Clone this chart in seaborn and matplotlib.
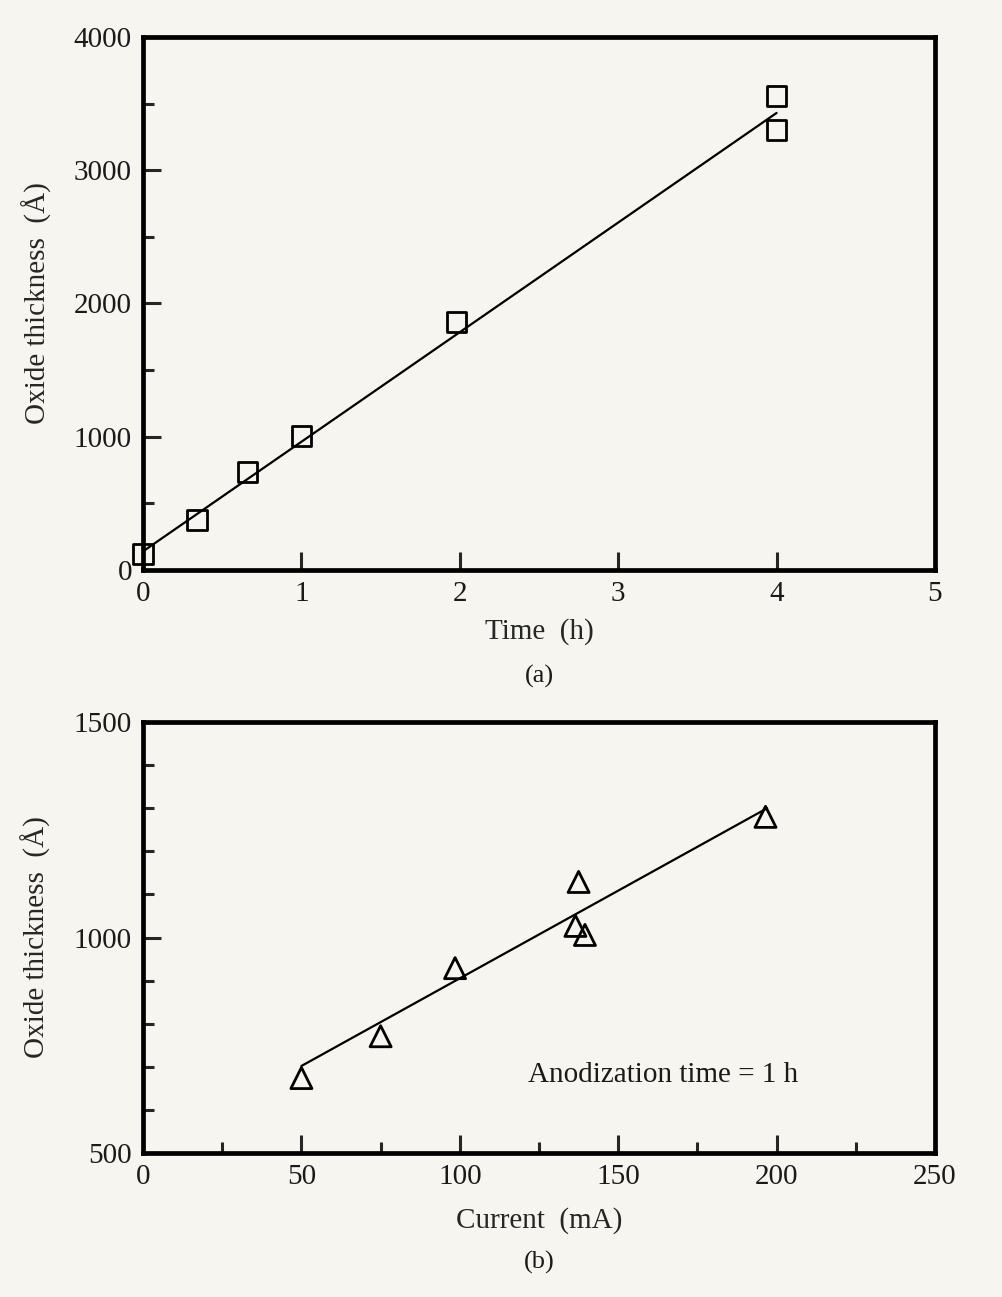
import numpy as np
import pandas as pd
import matplotlib
matplotlib.use("Agg")
import matplotlib.pyplot as plt
from matplotlib.ticker import MultipleLocator
import seaborn as sns

# ── Data ─────────────────────────────────────────────────────────────────────
time_h = [0.0, 0.34, 0.66, 1.0, 1.98, 4.0, 4.0]
thick_a = [120, 375, 735, 1005, 1860, 3555, 3300]
fit_a_x = [0.0, 4.0]
fit_a_y = [140, 3430]

current_ma = [50, 75, 98.5, 137.5, 136.5, 139.5, 196.5]
thick_b = [674, 771, 929, 1129, 1027, 1006, 1280]
fit_b_x = [50, 197]
fit_b_y = [702, 1300]

BG = "#f6f5ef"
sns.set_theme(style="ticks")
plt.rcParams.update({
    "font.family": ["Liberation Serif", "DejaVu Serif"],
    "figure.facecolor": BG,
    "axes.facecolor": BG,
    "axes.edgecolor": "black",
    "axes.linewidth": 3.4,
    "xtick.direction": "in",
    "ytick.direction": "in",
    "xtick.major.size": 13,
    "ytick.major.size": 13,
    "xtick.minor.size": 8,
    "ytick.minor.size": 8,
    "xtick.major.width": 2.2,
    "ytick.major.width": 2.2,
    "xtick.minor.width": 2.2,
    "ytick.minor.width": 2.2,
    "xtick.major.pad": 8,
    "ytick.major.pad": 8,
    "xtick.labelsize": 21,
    "ytick.labelsize": 21,
    "axes.labelsize": 21,
    "text.color": "#1a1a1a",
    "xtick.labelcolor": "#1a1a1a",
    "ytick.labelcolor": "#1a1a1a",
})

fig = plt.figure(figsize=(10.03, 12.97), dpi=100)
ax1 = fig.add_axes([0.1426, 0.5605, 0.7896, 0.4110])
ax2 = fig.add_axes([0.1426, 0.1110, 0.7896, 0.3323])

df_a = pd.DataFrame({"t": time_h, "d": thick_a})
df_b = pd.DataFrame({"i": current_ma, "d": thick_b})

# ── Panel (a) ────────────────────────────────────────────────────────────────
sns.lineplot(x=fit_a_x, y=fit_a_y, ax=ax1, color="black", lw=1.6)
sns.scatterplot(data=df_a, x="t", y="d", ax=ax1, marker="s", s=200,
                facecolor="none", edgecolor="black", linewidth=2.0,
                clip_on=False, zorder=5)
ax1.set_xlim(0, 5)
ax1.set_ylim(0, 4000)
ax1.xaxis.set_major_locator(MultipleLocator(1))
ax1.yaxis.set_major_locator(MultipleLocator(1000))
ax1.yaxis.set_minor_locator(MultipleLocator(500))
ax1.set_xlabel("Time  (h)", labelpad=8)
ax1.set_ylabel("Oxide thickness  (Å)", labelpad=16)
ax1.text(0.5, -0.2, "(a)", transform=ax1.transAxes, ha="center",
         va="center", fontsize=19)

# ── Panel (b) ────────────────────────────────────────────────────────────────
sns.lineplot(x=fit_b_x, y=fit_b_y, ax=ax2, color="black", lw=1.6)
sns.scatterplot(data=df_b, x="i", y="d", ax=ax2, marker="^", s=230,
                facecolor="none", edgecolor="black", linewidth=2.0,
                clip_on=False, zorder=5)
ax2.set_xlim(0, 250)
ax2.set_ylim(500, 1500)
ax2.xaxis.set_major_locator(MultipleLocator(50))
ax2.xaxis.set_minor_locator(MultipleLocator(25))
ax2.yaxis.set_major_locator(MultipleLocator(500))
ax2.yaxis.set_minor_locator(MultipleLocator(100))
ax2.set_xlabel("Current  (mA)", labelpad=12)
ax2.set_ylabel("Oxide thickness  (Å)", labelpad=16)
ax2.text(121.5, 681, "Anodization time = 1 h", ha="left", va="center",
         fontsize=21)
ax2.text(0.5, -0.253, "(b)", transform=ax2.transAxes, ha="center",
         va="center", fontsize=19)

for ax in (ax1, ax2):
    for sp in ax.spines.values():
        sp.set_visible(True)
    ax.tick_params(which="both", top=False, right=False)

fig.savefig("out.png", dpi=100, facecolor=BG)
plt.close(fig)
